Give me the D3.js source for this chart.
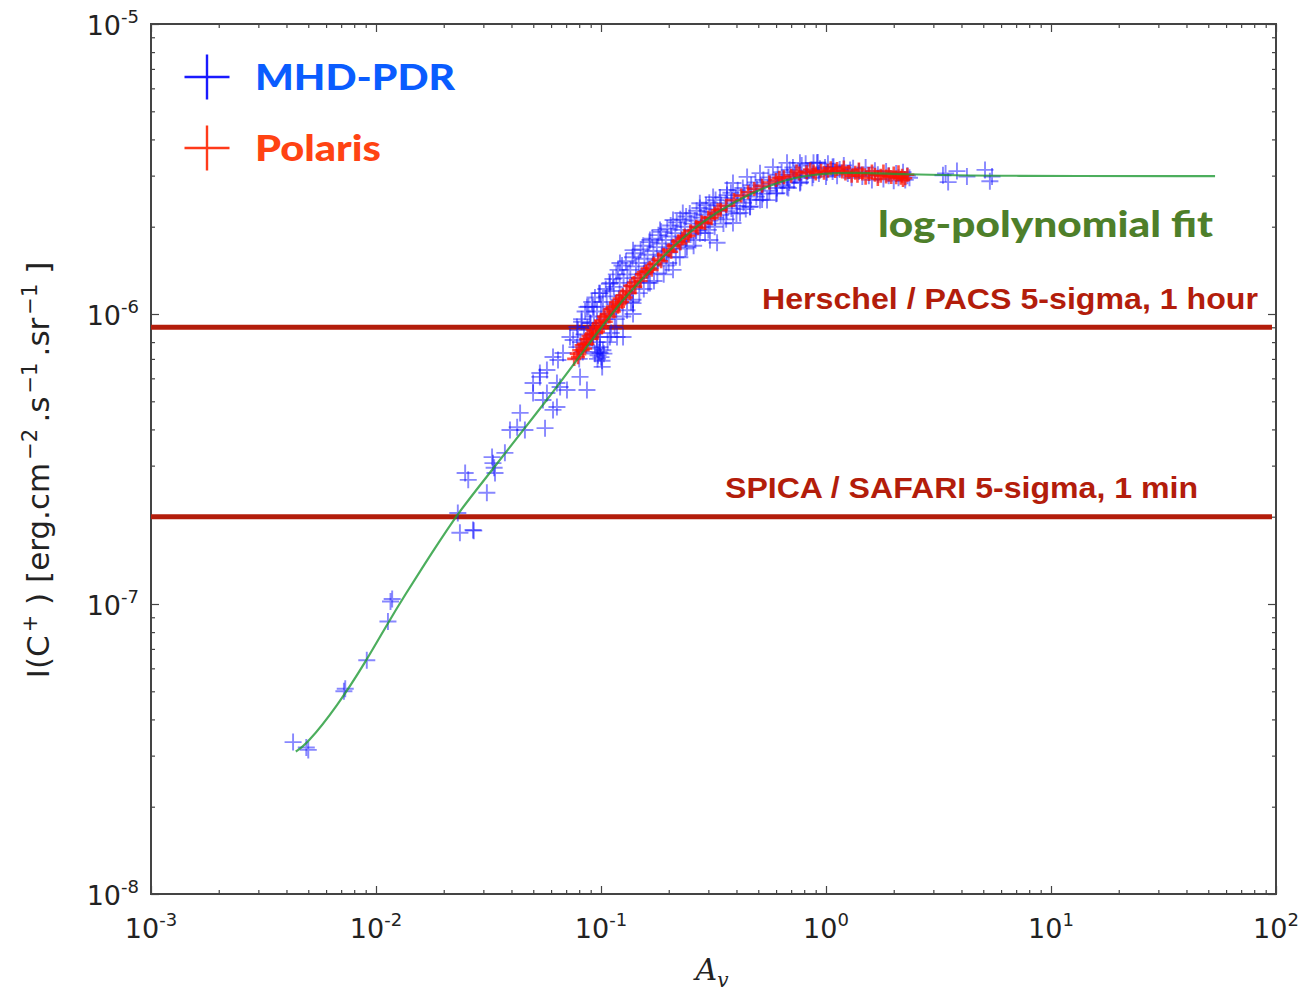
<!DOCTYPE html>
<html><head><meta charset="utf-8">
<script src="https://cdn.jsdelivr.net/npm/d3@7"></script>
<style>body{margin:0;background:#fff}</style>
</head><body>
<svg id="chart" width="1300" height="996"></svg>
<script>
// ---- data -------------------------------------------------------------
const xMajorTicks = [1e-3, 1e-2, 1e-1, 1, 10, 100];
const xTickExponents = ["-3", "-2", "-1", "0", "1", "2"];
const yMajorTicks = [1e-8, 1e-7, 1e-6, 1e-5];
const yTickExponents = ["-8", "-7", "-6", "-5"];

// log-polynomial fit, sampled [A_v, I(C+)]
const fitCurve = [
  [0.0044,3.1e-8],[0.0049,3.27e-8],[0.0067,4.42e-8],[0.0091,6.41e-8],[0.0112,8.5e-8],
  [0.0132,1.05e-7],[0.0179,1.52e-7],[0.0231,2.06e-7],[0.0331,2.92e-7],[0.0437,3.86e-7],
  [0.0575,5.05e-7],[0.0728,6.45e-7],[0.0959,8.6e-7],[0.125,1.12e-6],[0.139,1.22e-6],
  [0.196,1.64e-6],[0.275,2.06e-6],[0.386,2.43e-6],[0.547,2.76e-6],[0.766,3.01e-6],
  [1.28,3.09e-6],[2.13,3.03e-6],[5.93,2.99e-6],[53.6,2.99e-6]
];

// detection thresholds
const thresholdValues = [9e-7, 2e-7];
const thresholdLabels = ["Herschel / PACS 5-sigma, 1 hour", "SPICA / SAFARI 5-sigma, 1 min"];

// MHD-PDR model points [A_v, I(C+)]
const mhdPdr = [
  [0.00428,3.34e-8],[0.0049,3.2e-8],[0.0050,3.14e-8],[0.0072,5.0e-8],[0.0073,5.1e-8],
  [0.0091,6.4e-8],[0.0113,8.7e-8],[0.0116,1.02e-7],[0.0118,1.04e-7],
  [0.0231,2.06e-7],[0.0236,1.76e-7],[0.0270,1.80e-7],[0.0272,1.79e-7],[0.0249,2.83e-7],
  [0.0257,2.68e-7],[0.0311,2.42e-7],[0.0328,3.21e-7],[0.0338,2.83e-7],[0.0331,3.06e-7],
  [0.0335,2.95e-7],[0.0374,3.32e-7],[0.0394,3.98e-7],[0.0424,4.07e-7],[0.0437,4.56e-7],
  [0.0459,3.98e-7],[0.0564,4.04e-7],[0.0499,5.34e-7],[0.0552,5.05e-7],[0.0575,5.34e-7],
  [0.0612,4.67e-7],[0.0637,4.78e-7],[0.0658,5.6e-7],[0.0706,5.47e-7],[0.0637,5.78e-7],
  [0.0535,6.07e-7],[0.0575,6.41e-7],[0.0644,6.94e-7],[0.0678,7.34e-7],[0.0807,6.07e-7],
  [0.0866,5.47e-7],[0.0728,8.33e-7],[0.0752,8.13e-7],[0.0894,9.31e-7],[0.0921,1.057e-6],
  [0.099,8.33e-7],[0.099,7.34e-7],[0.1012,6.57e-7],[0.1096,8.33e-7],[0.1253,8.33e-7],
  [0.1305,1.03e-6],[0.1388,1.09e-6],
  [0.0959,8.0e-7],[0.0959,7.6e-7],[0.097,7.2e-7],[0.0965,7.0e-7],[0.098,7.4e-7],
  [0.1,7.1e-7],[0.102,7.5e-7],[0.094,7.3e-7],[0.101,6.9e-7],
  [0.0499,5.78e-7],[0.0535,6.26e-7],[0.0612,7.11e-7],[0.0782,9.02e-7],[0.0782,7.69e-7],
  [0.0921,8.33e-7],[0.099,7.69e-7],[0.1178,8.33e-7],[0.0866,1.057e-6],[0.099,1.18e-6],
  [0.1096,1.28e-6],[0.1214,1.5e-6],[0.1388,1.66e-6],[0.165,1.8e-6],[0.183,1.95e-6],
  [0.209,2.11e-6],[0.231,2.23e-6],[0.275,2.41e-6],[0.315,2.53e-6],[0.363,2.68e-6],
  [0.386,2.83e-6],[0.446,2.97e-6],[0.509,3.06e-6],[0.581,3.21e-6],[0.671,3.32e-6],
  [0.766,3.32e-6],[0.912,3.32e-6],[1.07,3.21e-6],[1.28,3.14e-6],
  [0.1388,1.12e-6],[0.1388,1.0e-6],[0.165,1.28e-6],[0.209,1.42e-6],[0.224,1.57e-6],
  [0.241,1.7e-6],[0.275,1.9e-6],[0.305,1.8e-6],[0.328,1.76e-6],[0.386,2.06e-6],
  [0.415,2.23e-6],[0.459,2.34e-6],[0.509,2.47e-6],[0.547,2.47e-6],[0.605,2.61e-6],
  [0.671,2.74e-6],[0.766,2.83e-6],
  [0.172,1.3e-6],[0.19,1.37e-6],[0.2,1.5e-6],[0.258,1.72e-6],[0.3,1.95e-6],[0.35,2.05e-6],
  [0.44,2.3e-6],[0.155,1.22e-6],[0.117,9.6e-7],[0.125,9.8e-7],
  [0.080,7.0e-7],[0.081,8.0e-7],[0.079,8.8e-7],[0.082,9.4e-7],
  [0.083,7.4e-7],[0.084,8.5e-7],[0.082,9.6e-7],
  [0.086,7.8e-7],[0.087,9.0e-7],[0.085,1.02e-6],
  [0.089,8.2e-7],[0.090,9.3e-7],[0.088,1.06e-6],
  [0.092,8.5e-7],[0.093,9.8e-7],[0.091,1.1e-6],
  [0.095,8.9e-7],[0.096,1.02e-6],[0.094,1.14e-6],
  [0.099,9.3e-7],[0.100,1.06e-6],[0.098,1.18e-6],
  [0.103,7.3e-7],[0.104,9.6e-7],[0.102,1.1e-6],[0.105,1.22e-6],
  [0.107,8.0e-7],[0.108,1.0e-6],[0.106,1.15e-6],[0.109,1.27e-6],
  [0.111,8.6e-7],[0.112,1.04e-6],[0.110,1.2e-6],[0.113,1.32e-6],
  [0.115,9.0e-7],[0.116,1.08e-6],[0.114,1.24e-6],[0.117,1.37e-6],
  [0.12,1.12e-6],[0.121,1.28e-6],[0.119,1.42e-6],
  [0.125,1.16e-6],[0.126,1.33e-6],[0.124,1.47e-6],
  [0.13,1.2e-6],[0.131,1.37e-6],[0.129,1.52e-6],
  [0.136,1.1e-6],[0.137,1.25e-6],[0.135,1.42e-6],[0.138,1.57e-6],
  [0.142,1.29e-6],[0.143,1.46e-6],[0.141,1.62e-6],
  [0.148,1.18e-6],[0.149,1.33e-6],[0.147,1.5e-6],[0.150,1.67e-6],
  [0.155,1.38e-6],[0.156,1.55e-6],[0.154,1.72e-6],
  [0.162,1.28e-6],[0.163,1.43e-6],[0.161,1.6e-6],[0.164,1.77e-6],
  [0.17,1.48e-6],[0.171,1.65e-6],[0.169,1.82e-6],
  [0.178,1.38e-6],[0.179,1.53e-6],[0.177,1.7e-6],[0.180,1.87e-6],
  [0.186,1.58e-6],[0.187,1.75e-6],[0.185,1.92e-6],
  [0.195,1.47e-6],[0.196,1.63e-6],[0.194,1.8e-6],[0.197,1.97e-6],
  [0.205,1.68e-6],[0.206,1.85e-6],[0.204,2.02e-6],
  [0.215,1.57e-6],[0.216,1.73e-6],[0.214,1.9e-6],[0.217,2.07e-6],
  [0.226,1.78e-6],[0.227,1.95e-6],[0.225,2.12e-6],
  [0.237,1.68e-6],[0.238,1.83e-6],[0.236,2.0e-6],[0.239,2.17e-6],
  [0.25,1.88e-6],[0.252,2.05e-6],[0.248,2.22e-6],
  [0.263,1.8e-6],[0.265,1.94e-6],[0.261,2.1e-6],[0.266,2.27e-6],
  [0.277,1.99e-6],[0.279,2.15e-6],[0.275,2.32e-6],
  [0.29,1.9e-6],[0.292,2.04e-6],[0.288,2.2e-6],[0.293,2.37e-6],
  [0.305,2.1e-6],[0.307,2.25e-6],[0.303,2.42e-6],
  [0.32,2.0e-6],[0.322,2.15e-6],[0.318,2.3e-6],[0.323,2.47e-6],
  [0.34,2.2e-6],[0.342,2.36e-6],[0.338,2.52e-6],
  [0.36,2.12e-6],[0.362,2.26e-6],[0.358,2.41e-6],[0.363,2.57e-6],
  [0.38,2.31e-6],[0.382,2.46e-6],[0.378,2.62e-6],
  [0.40,2.22e-6],[0.403,2.36e-6],[0.397,2.51e-6],[0.405,2.67e-6],
  [0.43,2.42e-6],[0.433,2.57e-6],[0.427,2.72e-6],
  [0.46,2.35e-6],[0.463,2.48e-6],[0.457,2.63e-6],[0.465,2.78e-6],
  [0.49,2.54e-6],[0.494,2.69e-6],[0.486,2.84e-6],
  [0.52,2.48e-6],[0.524,2.6e-6],[0.516,2.75e-6],[0.527,2.9e-6],
  [0.56,2.66e-6],[0.565,2.81e-6],[0.555,2.96e-6],
  [0.60,2.6e-6],[0.605,2.72e-6],[0.595,2.87e-6],[0.61,3.02e-6],
  [0.64,2.78e-6],[0.645,2.92e-6],[0.635,3.08e-6],
  [0.68,2.72e-6],[0.686,2.84e-6],[0.674,2.97e-6],[0.69,3.14e-6],
  [0.72,2.9e-6],[0.727,3.02e-6],[0.713,3.2e-6],
  [0.77,2.85e-6],[0.777,2.95e-6],[0.763,3.07e-6],[0.78,3.25e-6],
  [0.82,2.99e-6],[0.828,3.1e-6],[0.812,3.3e-6],
  [0.87,2.95e-6],[0.878,3.03e-6],[0.862,3.14e-6],[0.88,3.32e-6],
  [0.93,3.05e-6],[0.94,3.17e-6],[0.92,3.33e-6],
  [1.0,2.98e-6],[1.01,3.08e-6],[0.99,3.2e-6],[1.02,3.3e-6],
  [1.07,3.1e-6],[1.08,3.22e-6],
  [1.12,3.0e-6],[1.15,3.15e-6],[1.2,3.25e-6],[1.25,3.05e-6],[1.3,2.95e-6],[1.32,3.18e-6],
  [1.4,3.1e-6],[1.45,2.98e-6],[1.5,3.2e-6],[1.55,3.0e-6],[1.6,2.9e-6],[1.65,3.12e-6],
  [1.7,3.02e-6],[1.8,2.92e-6],[1.85,3.1e-6],[1.9,3.0e-6],[2.0,2.88e-6],[2.05,3.05e-6],
  [2.1,2.95e-6],[2.2,3.08e-6],[2.25,2.9e-6],[2.3,3.0e-6],[2.35,2.95e-6],
  [3.31,3.01e-6],[3.4,3.05e-6],[3.49,2.85e-6],[3.82,3.11e-6],[4.23,2.98e-6],[5.09,3.14e-6],
  [5.47,2.98e-6],[5.35,2.87e-6]
];

// Polaris points [A_v, I(C+)]
const polaris = [
  [0.076,7.0e-7],[0.078,7.3e-7],[0.080,7.5e-7],[0.082,7.8e-7],[0.084,7.9e-7],[0.086,8.2e-7],
  [0.088,8.4e-7],[0.090,8.5e-7],[0.092,8.8e-7],[0.095,9.0e-7],[0.098,9.3e-7],[0.100,9.5e-7],
  [0.103,9.8e-7],[0.106,1.0e-6],[0.110,1.04e-6],[0.113,1.06e-6],[0.117,1.10e-6],[0.121,1.13e-6],
  [0.125,1.16e-6],[0.130,1.20e-6],[0.135,1.25e-6],[0.140,1.28e-6],[0.146,1.33e-6],[0.152,1.37e-6],
  [0.158,1.40e-6],[0.165,1.44e-6],[0.172,1.49e-6],[0.180,1.54e-6],[0.19,1.60e-6],[0.20,1.66e-6],
  [0.21,1.72e-6],[0.22,1.78e-6],[0.235,1.86e-6],[0.25,1.93e-6],[0.265,2.0e-6],[0.28,2.07e-6],
  [0.30,2.15e-6],[0.32,2.22e-6],[0.34,2.29e-6],[0.36,2.36e-6],[0.39,2.47e-6],[0.42,2.56e-6],
  [0.45,2.63e-6],[0.48,2.70e-6],[0.52,2.77e-6],[0.56,2.84e-6],[0.60,2.90e-6],[0.65,2.96e-6],
  [0.70,3.0e-6],[0.76,3.05e-6],[0.82,3.08e-6],[0.88,3.10e-6],[0.95,3.12e-6],[1.02,3.12e-6],
  [1.10,3.11e-6],[1.18,3.10e-6],[1.26,3.09e-6],[1.35,3.07e-6],[1.45,3.05e-6],[1.55,3.04e-6],
  [1.65,3.02e-6],[1.75,3.00e-6],[1.85,2.98e-6],[1.95,2.97e-6],[2.05,2.96e-6],[2.15,2.95e-6],
  [2.25,2.94e-6],
  [0.085,7.6e-7],[0.095,8.6e-7],[0.12,1.08e-6],[0.16,1.40e-6],[0.23,1.82e-6],[0.33,2.28e-6],
  [1.2,3.2e-6],[1.5,2.95e-6],[2.0,3.05e-6],[2.2,2.9e-6],[1.8,3.1e-6],[1.3,3.0e-6],
  [0.9,3.05e-6],[2.3,3.02e-6],[1.05,3.18e-6],[1.4,3.15e-6],[1.7,2.92e-6],[2.1,3.08e-6],
  [0.079,7.1e-7],[0.083,7.5e-7],[0.087,7.9e-7],[0.091,8.2e-7],[0.097,8.7e-7],[0.101,9.0e-7],
  [0.105,9.4e-7],[0.109,9.8e-7],[0.114,1.02e-6],[0.119,1.06e-6],[0.124,1.1e-6],[0.129,1.14e-6],
  [0.134,1.18e-6],[0.142,1.24e-6],[0.15,1.3e-6],[0.168,1.42e-6],[0.185,1.52e-6],[0.205,1.64e-6],
  [0.225,1.75e-6],[0.245,1.86e-6],[0.27,1.98e-6],[0.29,2.06e-6],[0.31,2.14e-6],
  [0.62,2.95e-6],[0.74,3.1e-6],[0.85,3.15e-6],[0.98,3.07e-6],[1.12,3.16e-6],[1.6,3.1e-6],
  [1.9,3.03e-6],[2.18,3.0e-6],[1.38,3.0e-6],[1.22,3.05e-6]
];

// ---- chart ------------------------------------------------------------
const svg = d3.select("#chart");
const plotL = 151, plotR = 1276, plotT = 24, plotB = 894;
const x = d3.scaleLog().domain([1e-3, 1e2]).range([plotL, plotR]);
const y = d3.scaleLog().domain([1e-8, 1e-5]).range([plotB, plotT]);

const axisColor = "#444";
const tickFont = "'DejaVu Sans', sans-serif";

// minor ticks (2..9 inside each decade)
const isMinor = v => Math.abs(Math.log10(v) - Math.round(Math.log10(v))) > 1e-6;
const xMinor = x.ticks().filter(isMinor);
const yMinor = y.ticks().filter(isMinor);

function styleAxis(g) {
  g.select(".domain").remove();
  g.selectAll(".tick line").attr("stroke", axisColor).attr("stroke-width", 1.2);
  g.selectAll(".tick text").remove();
}

// major + minor ticks on all four sides, pointing inward
[[d3.axisBottom, plotB], [d3.axisTop, plotT]].forEach(([ax, pos]) => {
  svg.append("g").attr("transform", `translate(0,${pos})`)
    .call(ax(x).tickValues(xMajorTicks).tickSize(-8)).call(styleAxis);
  svg.append("g").attr("transform", `translate(0,${pos})`)
    .call(ax(x).tickValues(xMinor).tickSize(-4)).call(styleAxis);
});
[[d3.axisLeft, plotL], [d3.axisRight, plotR]].forEach(([ax, pos]) => {
  svg.append("g").attr("transform", `translate(${pos},0)`)
    .call(ax(y).tickValues(yMajorTicks).tickSize(-8)).call(styleAxis);
  svg.append("g").attr("transform", `translate(${pos},0)`)
    .call(ax(y).tickValues(yMinor).tickSize(-4)).call(styleAxis);
});

// plot frame
svg.append("rect").attr("x", plotL).attr("y", plotT)
  .attr("width", plotR - plotL).attr("height", plotB - plotT)
  .attr("fill", "none").attr("stroke", axisColor).attr("stroke-width", 2);

// tick labels as 10^n
function powerLabel(sel, exp) {
  sel.append("tspan").text("10");
  sel.append("tspan").attr("dy", -12).attr("font-size", 18).text(exp);
}
xMajorTicks.forEach((v, i) => {
  svg.append("text").attr("x", x(v)).attr("y", 938)
    .attr("text-anchor", "middle").attr("font-family", tickFont)
    .attr("font-size", 27).attr("fill", "#222")
    .call(powerLabel, xTickExponents[i]);
});
yMajorTicks.forEach((v, i) => {
  svg.append("text").attr("x", 139).attr("y", y(v) + 11)
    .attr("text-anchor", "end").attr("font-family", tickFont)
    .attr("font-size", 27).attr("fill", "#222")
    .call(powerLabel, yTickExponents[i]);
});

// axis titles
const xt = svg.append("text").attr("x", 712).attr("y", 980).attr("text-anchor", "middle")
  .attr("font-family", "'DejaVu Serif', serif").attr("font-style", "italic")
  .attr("font-size", 30).attr("fill", "#222");
xt.append("tspan").text("A");
xt.append("tspan").attr("dy", 7).attr("font-size", 20).text("v");

const yt = svg.append("text").attr("transform", "translate(49,470) rotate(-90)")
  .attr("text-anchor", "middle").attr("font-family", tickFont)
  .attr("font-size", 31).attr("fill", "#222");
const yParts = [["I(C", ""], ["+", "sup"], [" ) [erg.cm", ""], ["\u22122", "sup"],
  ["\u2009.s", ""], ["\u22121", "sup"], ["\u2009.sr", ""], ["\u22121", "sup"], [" ]", ""]];
let shifted = false;
yParts.forEach(([t, kind]) => {
  const ts = yt.append("tspan").text(t);
  if (kind === "sup") { ts.attr("dy", -12).attr("dx", 3).attr("font-size", 21); shifted = true; }
  else if (shifted) { ts.attr("dy", 12); shifted = false; }
});

// clip for data
svg.append("clipPath").attr("id", "plotClip").append("rect")
  .attr("x", plotL).attr("y", plotT).attr("width", plotR - plotL).attr("height", plotB - plotT);
const plot = svg.append("g").attr("clip-path", "url(#plotClip)");

// threshold lines
thresholdValues.forEach(v => {
  plot.append("line").attr("x1", plotL).attr("x2", plotR - 4)
    .attr("y1", y(v)).attr("y2", y(v))
    .attr("stroke", "#b31d0b").attr("stroke-width", 5);
});

const plusPath = s => `M${-s},0H${s}M0,${-s}V${s}`;

plot.append("g").selectAll("path").data(mhdPdr).join("path")
  .attr("transform", d => `translate(${x(d[0])},${y(d[1])})`)
  .attr("d", plusPath(8.5))
  .attr("stroke", "#1010ff").attr("stroke-opacity", 0.5).attr("stroke-width", 1.9)
  .attr("fill", "none");

plot.append("g").selectAll("path").data(polaris).join("path")
  .attr("transform", d => `translate(${x(d[0])},${y(d[1])})`)
  .attr("d", plusPath(7))
  .attr("stroke", "#ff1000").attr("stroke-opacity", 0.72).attr("stroke-width", 2.6)
  .attr("fill", "none");

// fitted curve
plot.append("path").datum(fitCurve)
  .attr("d", d3.line().x(d => x(d[0])).y(d => y(d[1])).curve(d3.curveBasis))
  .attr("fill", "none").attr("stroke", "#1f9a35").attr("stroke-opacity", 0.8)
  .attr("stroke-width", 2.2);

// legend
const legend = [
  { label: "MHD-PDR", mark: "#1a1aff", text: "#0a5cff", cy: 77, width: 200 },
  { label: "Polaris", mark: "#ff3a1a", text: "#ff4313", cy: 148, width: 126 }
];
legend.forEach(l => {
  svg.append("path").attr("transform", `translate(207,${l.cy})`)
    .attr("d", plusPath(22.5)).attr("stroke", l.mark).attr("stroke-width", 2.4);
  svg.append("text").attr("x", 255).attr("y", l.cy + 13)
    .attr("font-family", "Lato, 'Open Sans', sans-serif").attr("font-weight", 900)
    .attr("font-size", 36).attr("fill", l.text)
    .attr("textLength", l.width).attr("lengthAdjust", "spacingAndGlyphs").text(l.label);
});

// annotation texts
svg.append("text").attr("x", 878).attr("y", 237)
  .attr("font-family", "Lato, 'Open Sans', sans-serif").attr("font-weight", 900)
  .attr("font-size", 36).attr("fill", "#4e7f2a")
  .attr("textLength", 335).attr("lengthAdjust", "spacingAndGlyphs").text("log-polynomial fit");

const thresholdTextPos = [[762, 309, 496], [725, 498, 473]];
thresholdLabels.forEach((t, i) => {
  svg.append("text").attr("x", thresholdTextPos[i][0]).attr("y", thresholdTextPos[i][1])
    .attr("font-family", "'Liberation Sans', Arial, sans-serif").attr("font-weight", 700)
    .attr("font-size", 30).attr("fill", "#b31d0b")
    .attr("textLength", thresholdTextPos[i][2]).attr("lengthAdjust", "spacingAndGlyphs").text(t);
});
</script>
</body></html>
